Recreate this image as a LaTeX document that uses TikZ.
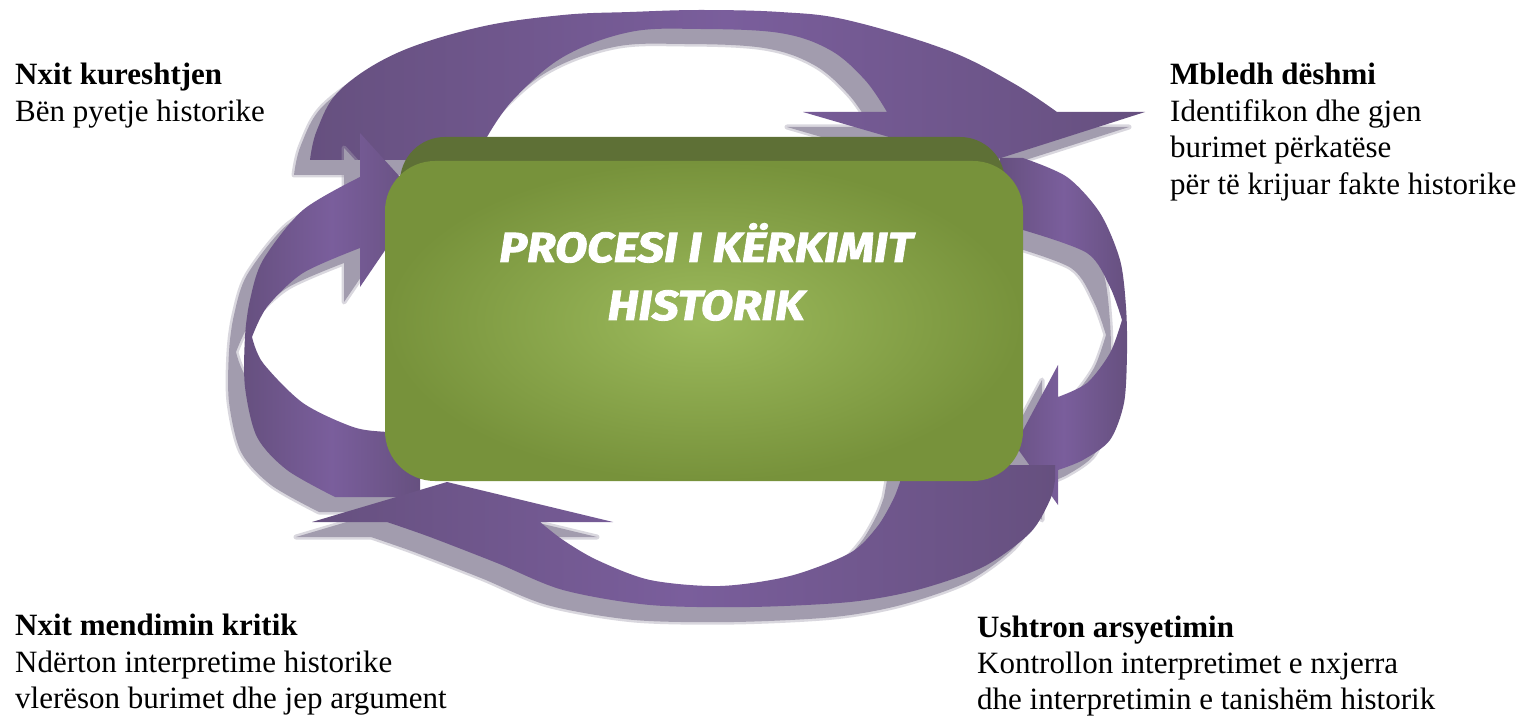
\documentclass[tikz,border=0pt]{standalone}
\usepackage{fontspec}
\setmainfont{Liberation Serif}
\newfontfamily\titlefont{Fira Sans}[BoldItalicFeatures={FakeBold=2,FakeStretch=1.12}]
\definecolor{pdark}{HTML}{66507F}
\definecolor{plight}{HTML}{7A5E9C}
\definecolor{shadowc}{HTML}{A29CAE}
\definecolor{boxdark}{HTML}{5E7036}
\definecolor{boxedge}{HTML}{77923B}
\definecolor{boxmid}{HTML}{9CBA5C}
\tikzset{
  arrowfill/.style={left color=pdark, right color=pdark, middle color=plight},
  shadowfill/.style={fill=shadowc, draw=shadowc, draw opacity=0.4, line width=5pt, line join=round, shift={(-16,15)}},
  lbl/.style={anchor=base west, inner sep=0pt, font=\fontsize{31}{37}\selectfont},
  lblb/.style={anchor=base west, inner sep=0pt, font=\fontsize{31}{37}\selectfont\bfseries},
  ttl/.style={anchor=base, inner sep=0pt, text=white, font=\titlefont\fontsize{42}{58}\selectfont\bfseries\itshape},
  mainbox/.style={rounded corners=50pt, minimum width=638pt, minimum height=320pt, inner sep=0pt, inner color=boxmid, outer color=boxedge},
  pathTop/.style={insert path={plot[smooth, tension=0.6] coordinates {(310,160) (317,130) (340,90) (397,53) (480,27) (563,15) (630,12) (700,10) (780,12) (847,20) (947,50) (1013,83) (1057,112)} -- (1145,112) -- (982,164) -- (803,112) -- (887,112) -- plot[smooth, tension=0.6] coordinates {(887,112) (865,80) (830,50) (780,33) (700,29) (630,32) (563,57) (513,100) (487,137)} -- (470,160) -- cycle}},
  pathRight/.style={insert path={(1000,158) -- plot[smooth] coordinates {(1023,158) (1067,177) (1100,213) (1120,260) (1126,307) (1127,353) (1124,403) (1110,440) (1083,460) (1058,470)} -- (1058,505) -- (1015,445) -- (1058,365) -- (1058,397) -- plot[smooth] coordinates {(1058,397) (1087,383) (1110,353) (1122,320)} -- plot[smooth] coordinates {(1122,320) (1110,287) (1087,253) (1023,230)} -- (1000,230) -- cycle}},
  pathBottom/.style={insert path={(903,465) -- (1055,465) -- plot[smooth] coordinates {(1055,480) (1050,500) (1030,533) (983,567) (917,590) (850,602) (750,607) (650,605) (563,590) (497,563) (430,537) (387,522)} -- (312,522) -- (447,482) -- (613,522) -- (540,522) -- plot[smooth] coordinates {(540,522) (563,540) (597,560) (650,580) (720,586) (790,576) (850,553) (877,527) (893,500) (900,482)} -- cycle}},
  pathLeft/.style={insert path={(420,497) -- plot[smooth] coordinates {(335,497) (287,470) (257,437) (245,387) (245,337) (250,300) (263,260) (303,210) (360,177)} -- (360,133) -- (420,199) -- (360,287) -- (360,248) -- plot[smooth] coordinates {(360,248) (303,273) (267,307) (252,337)} -- plot[smooth] coordinates {(252,337) (263,363) (303,403) (353,427) (387,432) (420,433)} -- cycle}},
}
\begin{document}
\begin{tikzpicture}[x=1pt, y=-1pt]
\useasboundingbox (0,0) rectangle (1527,719);
\fill[white] (0,0) rectangle (1527,719);
% shadows
\filldraw[shadowfill, pathTop];
\filldraw[shadowfill, pathRight];
\filldraw[shadowfill, pathBottom];
% arrows
\shade[arrowfill, pathTop];
\shade[arrowfill, pathRight];
\filldraw[shadowfill, pathLeft];
\shade[arrowfill, pathLeft];
\shade[arrowfill, pathBottom];
% central box
\fill[boxdark, rounded corners=45pt] (400,137) rectangle (1005,400);
\node[mainbox] (box) at (704,321) {};
\node[ttl] (t1) at (706,262) {PROCESI I KËRKIMIT};
\node[ttl] (t2) at (706,320) {HISTORIK};
% labels
\node[lblb] (n1h) at (15,85) {Nxit kureshtjen};
\node[lbl] (n1t) at (15,122) {Bën pyetje historike};
\node[lblb] (n2h) at (1170,85) {Mbledh dëshmi};
\node[lbl] (n2a) at (1170,122) {Identifikon dhe gjen};
\node[lbl] (n2b) at (1170,158) {burimet përkatëse};
\node[lbl] (n2c) at (1170,195) {për të krijuar fakte historike};
\node[lblb] (n3h) at (977,637) {Ushtron arsyetimin};
\node[lbl] (n3a) at (977,673) {Kontrollon interpretimet e nxjerra};
\node[lbl] (n3b) at (977,709) {dhe interpretimin e tanishëm historik};
\node[lblb] (n4h) at (15,635) {Nxit mendimin kritik};
\node[lbl] (n4a) at (15,672) {Ndërton interpretime historike};
\node[lbl] (n4b) at (15,708) {vlerëson burimet dhe jep argument};
\end{tikzpicture}
\end{document}
